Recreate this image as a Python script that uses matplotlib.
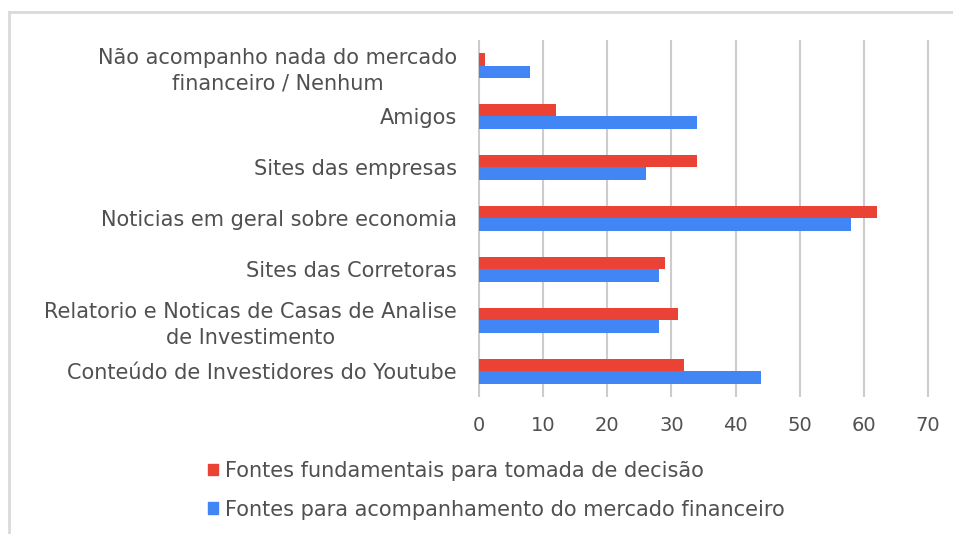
import matplotlib
matplotlib.use("Agg")
import matplotlib.pyplot as plt
import numpy as np
from matplotlib.patches import Rectangle
from matplotlib.lines import Line2D

categories = [
    "Não acompanho nada do mercado\nfinanceiro / Nenhum",
    "Amigos",
    "Sites das empresas",
    "Noticias em geral sobre economia",
    "Sites das Corretoras",
    "Relatorio e Noticas de Casas de Analise\nde Investimento",
    "Conteúdo de Investidores do Youtube",
]
fundamentais = [1, 12, 34, 62, 29, 31, 32]
acompanhamento = [8, 34, 26, 58, 28, 28, 44]
series_names = ["Fontes fundamentais para tomada de decisão",
                "Fontes para acompanhamento do mercado financeiro"]
xticks = [0, 10, 20, 30, 40, 50, 60, 70]

RED = "#EA4335"
BLUE = "#4285F4"
TXT = "#505050"

plt.rcParams['font.family'] = ['DejaVu Sans']

fig = plt.figure(figsize=(9.54, 5.34), dpi=100)
ax = fig.add_axes([0.5008, 0.257, 0.474, 0.668])

y = np.arange(len(categories))
h = 0.25
ax.barh(y - h / 2, fundamentais, height=h, color=RED, label=series_names[0], zorder=3)
ax.barh(y + h / 2, acompanhamento, height=h, color=BLUE, label=series_names[1], zorder=3)

ax.set_ylim(len(categories) - 0.5, -0.5)
ax.set_xlim(-0.2, 70.3)
ax.set_xticks(xticks)
ax.set_xticklabels([str(t) for t in xticks], fontsize=14)
ax.set_yticks(y)
ax.set_yticklabels(categories, multialignment="center", fontsize=15, linespacing=1.35)
for s in ax.spines.values():
    s.set_visible(False)
ax.grid(axis="x", color="#cccccc", linewidth=1.5, zorder=0)
ax.tick_params(axis="both", length=0, colors=TXT)
ax.tick_params(axis="x", pad=14)
ax.tick_params(axis="y", pad=15)

handles = [Rectangle((0, 0), 1, 1, color=RED), Rectangle((0, 0), 1, 1, color=BLUE)]
fig.legend(handles, series_names, loc="upper left", bbox_to_anchor=(0.198, 0.172),
           frameon=False, fontsize=15, handlelength=0.5, handleheight=0.5,
           handletextpad=0.35, labelspacing=0.9, labelcolor=TXT)

# outer frame (left and top edges)
fig.add_artist(Line2D([0.0095, 0.0095], [0, 0.978], color="#dadada", linewidth=2, transform=fig.transFigure))
fig.add_artist(Line2D([0.0095, 1.0], [0.978, 0.978], color="#dadada", linewidth=2, transform=fig.transFigure))

fig.savefig("out.png", dpi=100)
